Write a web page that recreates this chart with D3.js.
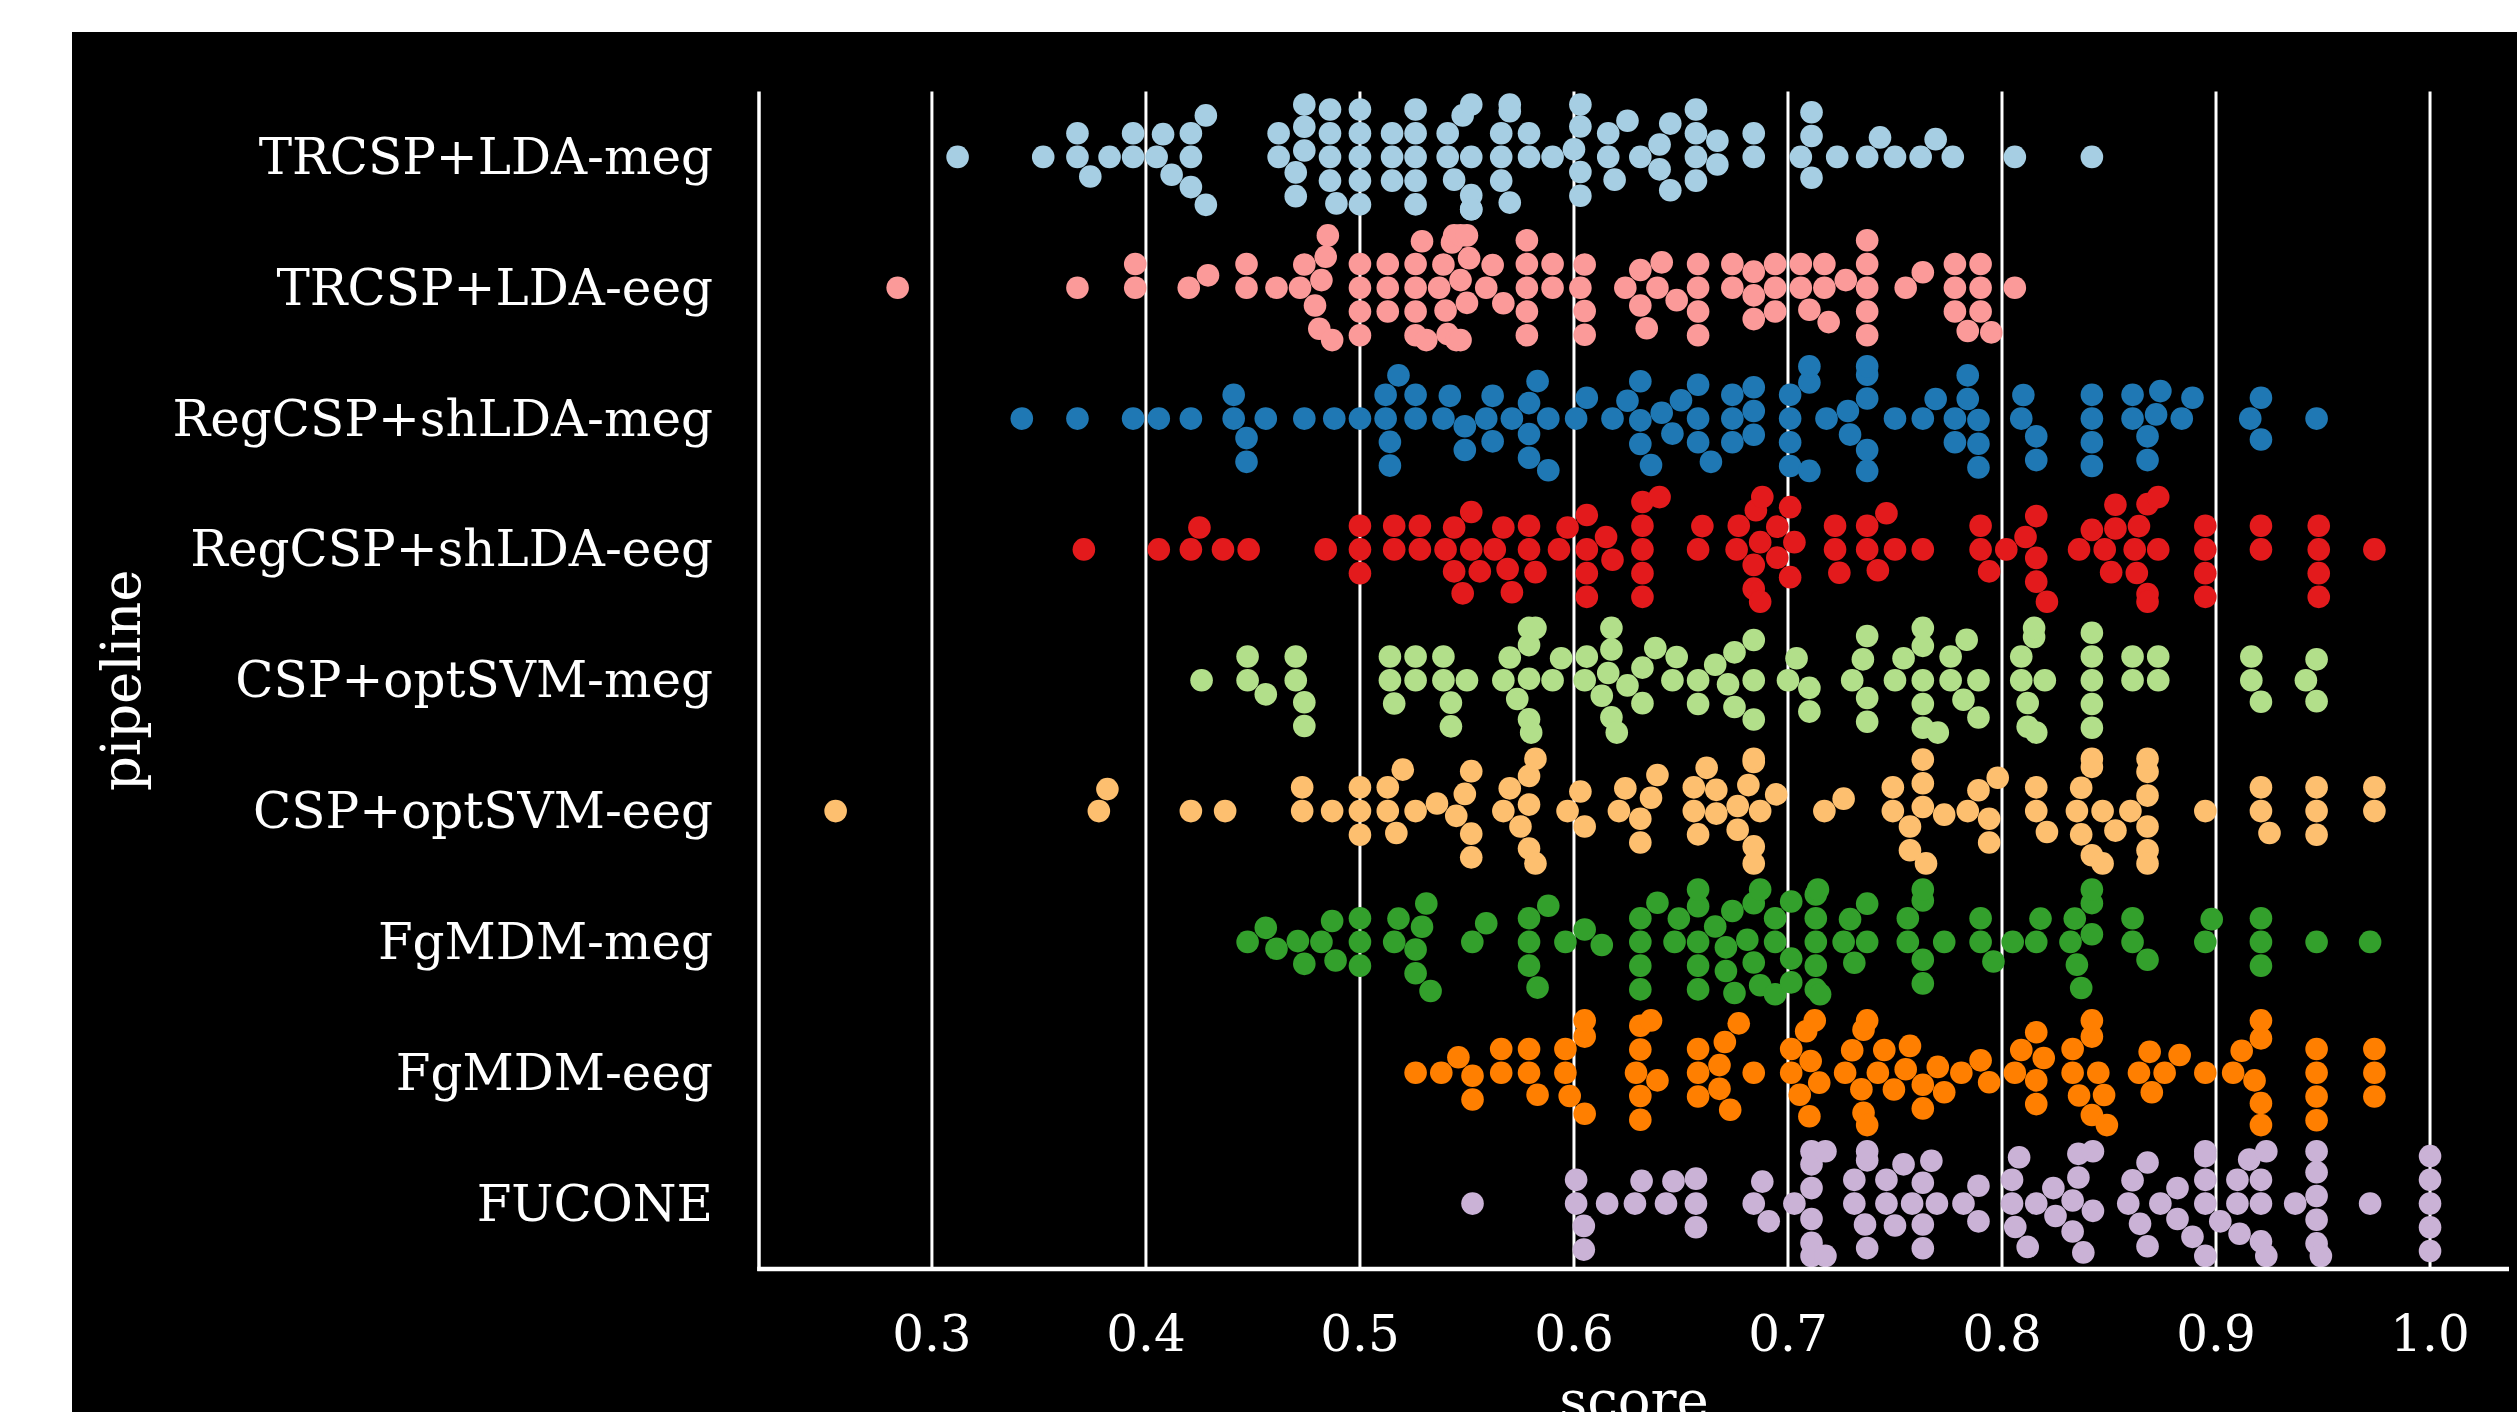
<!DOCTYPE html>
<html>
<head>
<meta charset="utf-8">
<script src="https://cdn.jsdelivr.net/npm/d3@7"></script>
<style>
  html, body { margin: 0; padding: 0; background: #ffffff; }
  svg { display: block; }
</style>
</head>
<body>
<svg id="chart" width="2517" height="1412"></svg>
<script>
// ---------------- DATA ----------------
const pipelines = ["TRCSP+LDA-meg", "TRCSP+LDA-eeg", "RegCSP+shLDA-meg", "RegCSP+shLDA-eeg",
  "CSP+optSVM-meg", "CSP+optSVM-eeg", "FgMDM-meg", "FgMDM-eeg", "FUCONE"];
const colors = ["#a6cee3", "#fb9a99", "#1f78b4", "#e31a1c", "#b2df8a", "#fdbf6f", "#33a02c", "#ff7f00", "#cab2d6"];
const xTicks = [0.3, 0.4, 0.5, 0.6, 0.7, 0.8, 0.9, 1.0];

const trcspLdaMeg = [0.312, 0.352, 0.368, 0.368, 0.374, 0.383, 0.394, 0.394, 0.405, 0.408, 0.412, 0.421, 0.421, 0.421, 0.428, 0.428,
  0.462, 0.462, 0.470, 0.470, 0.474, 0.474, 0.474, 0.486, 0.486, 0.486, 0.486, 0.489,
  0.500, 0.500, 0.500, 0.500, 0.500, 0.515, 0.515, 0.515, 0.526, 0.526, 0.526, 0.526, 0.526,
  0.541, 0.541, 0.544, 0.548, 0.552, 0.552, 0.552, 0.552, 0.552, 0.566, 0.566, 0.566, 0.570, 0.570, 0.570,
  0.579, 0.579, 0.590, 0.600, 0.603, 0.603, 0.603, 0.603, 0.616, 0.616, 0.619, 0.625, 0.631, 0.640, 0.640, 0.645, 0.645,
  0.657, 0.657, 0.657, 0.657, 0.667, 0.667, 0.684, 0.684, 0.706, 0.711, 0.711, 0.711, 0.723, 0.737, 0.743, 0.750,
  0.762, 0.769, 0.777, 0.806, 0.842];
const trcspLdaEeg = [0.284, 0.368, 0.395, 0.395, 0.420, 0.429, 0.447, 0.447, 0.461, 0.472, 0.474, 0.479, 0.481, 0.482, 0.484, 0.485, 0.487,
  0.500, 0.500, 0.500, 0.500, 0.513, 0.513, 0.513, 0.526, 0.526, 0.526, 0.526, 0.529, 0.531,
  0.537, 0.539, 0.540, 0.541, 0.543, 0.544, 0.545, 0.547, 0.547, 0.547, 0.550, 0.550, 0.551, 0.559, 0.562, 0.567,
  0.578, 0.578, 0.578, 0.578, 0.578, 0.590, 0.590, 0.603, 0.605, 0.605, 0.605,
  0.624, 0.631, 0.631, 0.634, 0.639, 0.641, 0.648, 0.658, 0.658, 0.658, 0.658,
  0.674, 0.674, 0.684, 0.684, 0.684, 0.694, 0.694, 0.694, 0.706, 0.706, 0.710, 0.717, 0.717, 0.719,
  0.727, 0.737, 0.737, 0.737, 0.737, 0.737, 0.755, 0.763, 0.778, 0.778, 0.778, 0.784, 0.790, 0.790, 0.790, 0.795, 0.806];
const regcspMeg = [0.342, 0.368, 0.394, 0.406, 0.421, 0.441, 0.441, 0.447, 0.447, 0.456, 0.474, 0.488, 0.500,
  0.512, 0.512, 0.514, 0.514, 0.518, 0.526, 0.526, 0.539, 0.542, 0.549, 0.549, 0.559, 0.562, 0.562,
  0.571, 0.579, 0.579, 0.579, 0.583, 0.588, 0.588, 0.601, 0.606, 0.618, 0.625, 0.631, 0.631, 0.631, 0.636,
  0.641, 0.646, 0.650, 0.658, 0.658, 0.658, 0.664, 0.674, 0.674, 0.674, 0.684, 0.684, 0.684,
  0.701, 0.701, 0.701, 0.701, 0.710, 0.710, 0.710, 0.718, 0.728, 0.729, 0.737, 0.737, 0.737, 0.737, 0.737,
  0.750, 0.763, 0.769, 0.778, 0.778, 0.784, 0.784, 0.789, 0.789, 0.789, 0.809, 0.810, 0.816, 0.816,
  0.842, 0.842, 0.842, 0.842, 0.861, 0.861, 0.868, 0.868, 0.872, 0.874, 0.884, 0.889, 0.916, 0.921, 0.921, 0.947];
const regcspEeg = [0.371, 0.406, 0.421, 0.425, 0.436, 0.448, 0.484, 0.500, 0.500, 0.500, 0.516, 0.516, 0.528, 0.528,
  0.540, 0.544, 0.544, 0.548, 0.552, 0.552, 0.556, 0.563, 0.567, 0.569, 0.571, 0.579, 0.579, 0.582, 0.593, 0.597,
  0.606, 0.606, 0.606, 0.606, 0.615, 0.618, 0.632, 0.632, 0.632, 0.632, 0.632, 0.640, 0.658, 0.660,
  0.676, 0.677, 0.684, 0.684, 0.685, 0.687, 0.687, 0.688, 0.695, 0.695, 0.701, 0.701, 0.703,
  0.722, 0.722, 0.724, 0.737, 0.737, 0.742, 0.746, 0.750, 0.763, 0.790, 0.790, 0.794,
  0.802, 0.811, 0.816, 0.816, 0.816, 0.821, 0.836, 0.842, 0.848, 0.851, 0.853, 0.853,
  0.862, 0.863, 0.864, 0.868, 0.868, 0.868, 0.873, 0.873, 0.895, 0.895, 0.895, 0.895, 0.921, 0.921,
  0.948, 0.948, 0.948, 0.948, 0.974];
const cspSvmMeg = [0.426, 0.4475, 0.4475, 0.456, 0.470, 0.470, 0.474, 0.474, 0.514, 0.514, 0.516, 0.526, 0.526,
  0.539, 0.539, 0.5425, 0.5425, 0.550, 0.567, 0.570, 0.5735, 0.579, 0.579, 0.579, 0.579, 0.580, 0.582, 0.590, 0.594,
  0.605, 0.606, 0.613, 0.616, 0.6175, 0.6175, 0.6175, 0.620, 0.625, 0.632, 0.632, 0.638, 0.646, 0.648, 0.658, 0.658, 0.666,
  0.672, 0.675, 0.675, 0.684, 0.684, 0.684, 0.700, 0.704, 0.710, 0.710, 0.730, 0.735, 0.737, 0.737, 0.737,
  0.750, 0.754, 0.763, 0.763, 0.763, 0.763, 0.763, 0.770, 0.776, 0.776, 0.782, 0.7835, 0.789, 0.789,
  0.809, 0.809, 0.812, 0.812, 0.815, 0.815, 0.816, 0.820, 0.842, 0.842, 0.842, 0.842, 0.842,
  0.861, 0.861, 0.873, 0.873, 0.9165, 0.9165, 0.921, 0.942, 0.947, 0.947];
const cspSvmEeg = [0.255, 0.378, 0.382, 0.421, 0.437, 0.473, 0.473, 0.487, 0.500, 0.500, 0.500, 0.513, 0.513, 0.517, 0.520,
  0.526, 0.536, 0.545, 0.549, 0.552, 0.552, 0.552, 0.567, 0.570, 0.575, 0.579, 0.579, 0.579, 0.582, 0.582,
  0.597, 0.603, 0.605, 0.621, 0.624, 0.631, 0.631, 0.636, 0.639, 0.656, 0.656, 0.658, 0.662, 0.6665, 0.6665,
  0.6765, 0.6765, 0.6815, 0.684, 0.684, 0.684, 0.684, 0.687, 0.6945, 0.717, 0.726,
  0.749, 0.749, 0.757, 0.757, 0.763, 0.763, 0.763, 0.7645, 0.773, 0.784, 0.789, 0.794, 0.794, 0.798,
  0.816, 0.816, 0.821, 0.835, 0.837, 0.837, 0.842, 0.842, 0.842, 0.847, 0.847, 0.853, 0.860,
  0.868, 0.868, 0.868, 0.868, 0.868, 0.868, 0.895, 0.921, 0.921, 0.925, 0.947, 0.947, 0.947, 0.974, 0.974];
const fgmdmMeg = [0.4475, 0.456, 0.461, 0.471, 0.474, 0.482, 0.487, 0.4886, 0.500, 0.500, 0.500, 0.516, 0.518, 0.526, 0.526, 0.529, 0.531, 0.533,
  0.5525, 0.559, 0.579, 0.579, 0.579, 0.583, 0.588, 0.596, 0.605, 0.613, 0.631, 0.631, 0.631, 0.631, 0.639, 0.647, 0.649,
  0.658, 0.658, 0.658, 0.658, 0.658, 0.666, 0.671, 0.671, 0.674, 0.675, 0.681, 0.684, 0.684, 0.687, 0.687,
  0.694, 0.694, 0.694, 0.7015, 0.7015, 0.7015, 0.713, 0.713, 0.713, 0.713, 0.713, 0.714, 0.715,
  0.726, 0.729, 0.731, 0.737, 0.737, 0.756, 0.756, 0.763, 0.763, 0.763, 0.763, 0.773, 0.790, 0.790, 0.796,
  0.805, 0.816, 0.818, 0.832, 0.834, 0.835, 0.837, 0.842, 0.842, 0.842, 0.861, 0.861, 0.868, 0.895, 0.898,
  0.921, 0.921, 0.921, 0.947, 0.972];
const fgmdmEeg = [0.526, 0.538, 0.546, 0.5526, 0.5526, 0.566, 0.566, 0.579, 0.579, 0.583, 0.596, 0.596, 0.598, 0.605, 0.605, 0.605,
  0.629, 0.631, 0.631, 0.631, 0.631, 0.636, 0.639, 0.658, 0.658, 0.658, 0.668, 0.668, 0.6705, 0.673, 0.677, 0.684,
  0.7015, 0.7015, 0.7055, 0.7085, 0.710, 0.7106, 0.7125, 0.7146, 0.7267, 0.730, 0.7343, 0.7353, 0.7353, 0.737, 0.737,
  0.742, 0.745, 0.7495, 0.755, 0.757, 0.763, 0.763, 0.770, 0.773, 0.781, 0.790, 0.794,
  0.806, 0.809, 0.816, 0.816, 0.816, 0.8195, 0.833, 0.833, 0.836, 0.842, 0.842, 0.842, 0.845, 0.8477, 0.849,
  0.864, 0.869, 0.870, 0.876, 0.883, 0.895, 0.908, 0.912, 0.918, 0.921, 0.921, 0.921, 0.921,
  0.947, 0.947, 0.947, 0.947, 0.974, 0.974, 0.974];
const fucone = [0.5526, 0.601, 0.601, 0.6046, 0.6046, 0.6155, 0.6285, 0.6316, 0.643, 0.6465, 0.657, 0.657, 0.657,
  0.684, 0.688, 0.691, 0.703, 0.711, 0.711, 0.711, 0.711, 0.711, 0.711, 0.7175, 0.7175,
  0.731, 0.731, 0.736, 0.737, 0.737, 0.737, 0.746, 0.746, 0.750, 0.754, 0.758, 0.763, 0.763, 0.763, 0.767, 0.7696,
  0.782, 0.789, 0.789, 0.8047, 0.8047, 0.8062, 0.808, 0.812, 0.816, 0.824, 0.825,
  0.833, 0.833, 0.8357, 0.8357, 0.838, 0.8425, 0.8425, 0.859, 0.861, 0.8645, 0.868, 0.868, 0.874,
  0.882, 0.882, 0.889, 0.895, 0.895, 0.895, 0.895, 0.895, 0.902, 0.910, 0.910, 0.911, 0.9155,
  0.921, 0.921, 0.921, 0.9235, 0.9235, 0.937, 0.947, 0.947, 0.947, 0.947, 0.947, 0.949, 0.972,
  1.0, 1.0, 1.0, 1.0, 1.0];

const scores = [trcspLdaMeg, trcspLdaEeg, regcspMeg, regcspEeg, cspSvmMeg, cspSvmEeg, fgmdmMeg, fgmdmEeg, fucone];

// ---------------- LAYOUT ----------------
const W = 2517, H = 1412;
const plot = { left: 759, right: 2509, top: 91.5, bottom: 1269 };
const R = 11.3;
const FONT = "'DejaVu Serif', 'Liberation Serif', serif";

const svg = d3.select("#chart");

// figure background (black panel with white margin top/left)
svg.append("rect").attr("x", 0).attr("y", 0).attr("width", W).attr("height", H).attr("fill", "#ffffff");
svg.append("rect").attr("x", 72).attr("y", 32).attr("width", W - 72).attr("height", H - 32).attr("fill", "#000000");

const x = d3.scaleLinear().domain([0.2192, 1.0369]).range([plot.left, plot.right]);
const y = d3.scaleBand().domain(pipelines).range([plot.top, plot.bottom]).padding(0);

// grid lines
svg.append("g").selectAll("line").data(xTicks).join("line")
  .attr("x1", d => x(d)).attr("x2", d => x(d))
  .attr("y1", plot.top).attr("y2", plot.bottom)
  .attr("stroke", "#ffffff").attr("stroke-width", 3);

// beeswarm (seaborn-like)
function beeswarm(vals, center, r, halfWidth) {
  const pts = vals.slice().sort((a, b) => a - b).map(v => ({ v, px: x(v) }));
  const swarm = [];
  const sep2 = 4 * r * r;
  for (const p of pts) {
    if (swarm.length === 0) { swarm.push({ v: p.v, px: p.px, py: center }); continue; }
    const nb = [];
    for (let j = swarm.length - 1; j >= 0; j--) {
      if (p.px - swarm[j].px < 2 * r) nb.push(swarm[j]); else break;
    }
    let chosen = center;
    if (nb.length) {
      const cands = [center];
      let leftFirst = true;
      for (const n of nb) {
        const dx = p.px - n.px;
        const d = Math.sqrt(Math.max(sep2 - dx * dx, 0)) * 1.05;
        const cl = n.py - d, cr = n.py + d;
        if (leftFirst) cands.push(cl, cr); else cands.push(cr, cl);
        leftFirst = !leftFirst;
      }
      const order = cands.map((c, i) => [Math.abs(c - center), i, c])
        .sort((a, b) => (a[0] - b[0]) || (a[1] - b[1]));
      for (const o of order) {
        const c = o[2];
        let ok = true;
        for (const n of nb) {
          const ddx = n.px - p.px, ddy = n.py - c;
          if (ddx * ddx + ddy * ddy < sep2 - 1e-6) { ok = false; break; }
        }
        if (ok) { chosen = c; break; }
      }
    }
    swarm.push({ v: p.v, px: p.px, py: chosen });
  }
  for (const s of swarm) {
    s.py = Math.max(center - halfWidth, Math.min(center + halfWidth, s.py));
  }
  return swarm;
}

const pointsG = svg.append("g");
pipelines.forEach((name, i) => {
  const center = y(name) + y.bandwidth() / 2;
  const sw = beeswarm(scores[i], center, R, y.bandwidth() * 0.4);
  pointsG.append("g").selectAll("circle").data(sw).join("circle")
    .attr("cx", d => d.px).attr("cy", d => d.py).attr("r", R)
    .attr("fill", colors[i]);
});

// spines
svg.append("line").attr("x1", plot.left).attr("x2", plot.left)
  .attr("y1", plot.top).attr("y2", plot.bottom + 2)
  .attr("stroke", "#ffffff").attr("stroke-width", 3.5);
svg.append("line").attr("x1", plot.left - 1.75).attr("x2", plot.right)
  .attr("y1", plot.bottom).attr("y2", plot.bottom)
  .attr("stroke", "#ffffff").attr("stroke-width", 4.5);

// y tick labels
svg.append("g").selectAll("text").data(pipelines).join("text")
  .attr("x", 713).attr("y", d => y(d) + y.bandwidth() / 2)
  .attr("text-anchor", "end").attr("dominant-baseline", "central")
  .attr("font-family", FONT).attr("font-size", 50).attr("fill", "#ffffff")
  .text(d => d);

// x tick labels
svg.append("g").selectAll("text").data(xTicks).join("text")
  .attr("x", d => x(d)).attr("y", 1351)
  .attr("text-anchor", "middle")
  .attr("font-family", FONT).attr("font-size", 50).attr("fill", "#ffffff")
  .text(d => d.toFixed(1));

// axis labels
svg.append("text").attr("x", (plot.left + plot.right) / 2).attr("y", 1419)
  .attr("text-anchor", "middle").attr("font-family", FONT).attr("font-size", 54.5)
  .attr("fill", "#ffffff").text("score");
svg.append("text")
  .attr("transform", `translate(140, ${(plot.top + plot.bottom) / 2}) rotate(-90)`)
  .attr("text-anchor", "middle").attr("font-family", FONT).attr("font-size", 54.5)
  .attr("fill", "#ffffff").text("pipeline");
</script>
</body>
</html>
